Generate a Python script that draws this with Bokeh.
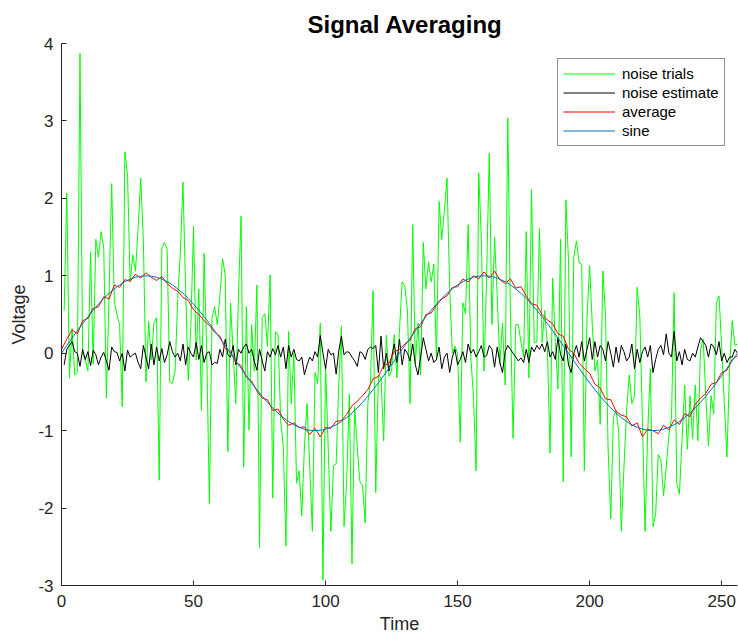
from bokeh.plotting import figure
from bokeh.models import Range1d, FixedTicker, Legend, LegendItem
from bokeh.embed import file_html
from bokeh.resources import INLINE

# ---------------- data ----------------
t_trial = list(range(1, 257))
noise_trials = [
    0.55, 2.07, -0.32, 0.32, -0.28, -0.25, 3.87, 0.00, -0.09, -0.23, 1.31, -0.14, 1.47, 1.24, 1.57, 1.36,
    -0.58, 0.74, 2.19, 0.67, 0.50, 0.37, -0.69, 2.60, 2.30, 0.92, 1.27, 1.06, 1.60, 2.26, 1.47, -0.37,
    0.41, -0.09, 0.39, 0.46, -1.64, 1.36, 1.43, 1.34, -0.37, -0.39, -0.23, 0.69, 1.30, 2.21, 0.83, -0.35,
    0.37, 1.64, -0.09, 0.83, -0.74, 1.29, 0.00, -1.94, 0.46, 0.60, 0.37, 0.74, 1.22, 1.01, -1.27, 0.65,
    0.00, -0.65, 0.74, 1.77, -1.47, 0.60, -0.99, 0.37, -0.23, 0.88, -2.51, 0.46, 0.51, 0.09, 1.01, -1.87,
    0.28, 0.23, -0.88, -1.20, -2.49, 0.28, -0.65, 0.00, -1.68, -1.52, -2.10, -1.20, -0.65, -1.47, -2.30, -0.25,
    -0.39, 0.39, -2.93, -0.16, -1.22, -2.30, -1.45, -1.43, -0.41, 0.35, -2.24, -1.66, -0.53, -2.72, -0.69, -1.22,
    -1.66, -1.71, -2.19, -0.65, -0.37, 0.81, -1.80, -0.28, -0.32, -1.13, 0.23, -0.30, -0.23, 0.24, -0.32, 0.30,
    0.92, 0.87, 0.55, -0.65, 1.66, -0.14, 0.39, -0.28, 1.43, 0.83, 1.18, 0.92, 1.15, -0.09, 1.96, 1.47,
    1.84, 2.26, 0.83, 0.00, 0.09, 0.00, -1.15, 0.65, 0.51, 1.66, -0.05, -0.55, -1.52, 2.33, 1.47, -0.23,
    1.00, 2.58, 0.37, 1.50, 0.74, -0.14, 0.39, -0.41, 3.04, 0.51, -1.10, 0.37, 0.37, 0.14, -0.05, 1.57,
    -0.32, 2.12, 0.14, 0.14, 1.61, 0.14, 0.55, 0.09, -1.29, 0.97, 0.14, -0.46, 1.47, -1.66, 1.98, 1.20,
    -1.34, 1.24, 1.45, 1.17, 1.15, -1.52, 0.46, 1.13, 0.37, -0.23, -0.09, -0.92, 1.06, 0.51, -1.24, -2.14,
    -0.83, -0.74, -1.01, -2.30, -1.47, -0.74, -0.28, -0.65, -0.55, 0.85, 0.48, -0.88, -2.30, -1.00, -0.20, -2.24,
    -2.08, -1.31, -1.38, -1.84, -1.47, -1.06, -0.83, 0.78, -1.68, -1.82, -1.11, -0.41, -1.24, -0.55, -1.11, -0.41,
    -1.13, 0.05, 0.18, -0.55, -1.20, -0.55, -0.78, 0.65, 0.74, 0.09, -0.65, -1.34, -0.20, 0.42, 0.10, 0.12,
]
noise_estimate = [
    -0.15, 0.05, 0.10, 0.15, 0.02, 0.00, -0.17, 0.05, -0.08, 0.02, -0.16, 0.04, -0.02, -0.15, -0.05, 0.01,
    -0.10, -0.22, 0.08, 0.02, 0.01, -0.10, 0.00, -0.23, 0.04, -0.05, -0.02, 0.00, -0.12, -0.20, 0.10, -0.05,
    -0.20, 0.12, -0.15, 0.08, -0.10, 0.06, -0.12, -0.02, 0.15, 0.02, -0.05, 0.00, -0.10, 0.12, -0.15, 0.08,
    0.00, -0.05, 0.14, -0.08, 0.10, -0.12, 0.00, 0.02, -0.15, -0.12, -0.13, 0.05, -0.05, 0.18, -0.02, -0.05,
    0.10, -0.15, 0.05, 0.00, 0.08, 0.12, 0.00, 0.05, -0.10, -0.22, 0.05, -0.10, -0.23, 0.02, -0.05, 0.06,
    -0.02, 0.10, -0.05, 0.08, -0.20, 0.10, -0.05, 0.05, -0.08, -0.10, -0.05, -0.28, -0.15, -0.05, -0.10, 0.02,
    -0.05, 0.23, 0.00, -0.20, 0.05, -0.02, 0.00, -0.27, 0.03, 0.22, -0.02, 0.02, 0.01, -0.05, -0.10, -0.17,
    0.02, 0.00, -0.08, 0.05, 0.08, 0.06, 0.10, -0.25, 0.22, -0.20, 0.00, -0.23, -0.05, 0.12, -0.12, 0.18,
    -0.15, 0.05, 0.00, -0.10, 0.12, -0.15, -0.28, -0.05, 0.20, 0.05, -0.10, 0.00, -0.12, -0.08, 0.08, -0.20,
    -0.05, 0.00, -0.25, -0.05, 0.05, -0.15, -0.08, 0.02, -0.12, 0.12, 0.00, 0.05, -0.05, 0.02, 0.10, -0.05,
    -0.03, 0.10, 0.05, -0.18, 0.08, -0.12, -0.25, 0.02, 0.10, 0.05, 0.00, -0.05, -0.10, -0.06, -0.12, 0.05,
    -0.12, 0.08, 0.02, 0.10, 0.05, 0.12, 0.02, 0.15, -0.05, 0.02, -0.08, 0.20, -0.02, -0.10, 0.12, -0.15,
    -0.25, 0.00, 0.10, -0.05, 0.15, -0.10, 0.05, 0.20, -0.08, 0.15, -0.05, 0.10, 0.05, -0.10, 0.15, 0.00,
    -0.18, 0.08, -0.12, 0.10, 0.02, -0.10, -0.05, 0.12, -0.20, 0.05, -0.12, 0.02, 0.08, -0.05, 0.10, -0.25,
    -0.08, 0.05, 0.10, -0.02, 0.25, 0.00, -0.05, 0.28, -0.10, 0.02, -0.15, 0.05, -0.08, -0.10, 0.00, -0.05,
    0.08, 0.20, 0.15, 0.10, -0.05, 0.12, 0.08, -0.02, 0.15, -0.10, 0.00, -0.12, -0.05, -0.05, 0.05, 0.00,
]
t_avg = list(range(0, 257, 2))
average = [
    0.05, 0.18, 0.30, 0.25, 0.42, 0.45, 0.58, 0.60, 0.73, 0.70, 0.88, 0.85, 0.95, 0.93, 1.02, 0.97,
    1.04, 0.98, 0.94, 0.99, 0.90, 0.84, 0.80, 0.72, 0.68, 0.56, 0.50, 0.42, 0.36, 0.27, 0.22, 0.06,
    0.02, -0.12, -0.16, -0.31, -0.36, -0.49, -0.58, -0.60, -0.74, -0.72, -0.85, -0.93, -0.90, -0.96, -0.95, -1.05,
    -0.97, -1.08, -0.96, -0.97, -0.88, -0.87, -0.79, -0.68, -0.62, -0.55, -0.47, -0.33, -0.30, -0.16, -0.13, 0.02,
    0.05, 0.12, 0.17, 0.32, 0.34, 0.50, 0.52, 0.62, 0.70, 0.74, 0.85, 0.86, 0.96, 0.92, 1.00, 0.96,
    1.05, 0.97, 1.06, 0.95, 0.90, 0.96, 0.84, 0.86, 0.74, 0.64, 0.62, 0.50, 0.43, 0.38, 0.25, 0.22,
    0.05, 0.00, -0.13, -0.20, -0.26, -0.40, -0.45, -0.59, -0.60, -0.75, -0.80, -0.82, -0.94, -0.90, -1.08, -0.98,
    -1.00, -1.04, -0.93, -0.99, -0.86, -0.92, -0.78, -0.82, -0.66, -0.58, -0.52, -0.40, -0.38, -0.25, -0.22, -0.08,
    -0.03,
]
t_sine = list(range(0, 257, 2))
sine = [
    0.000, 0.098, 0.195, 0.290, 0.383, 0.471, 0.556, 0.634, 0.707, 0.773, 0.831, 0.882, 0.924, 0.957, 0.981, 0.995,
    1.000, 0.995, 0.981, 0.957, 0.924, 0.882, 0.831, 0.773, 0.707, 0.634, 0.556, 0.471, 0.383, 0.290, 0.195, 0.098,
    0.000, -0.098, -0.195, -0.290, -0.383, -0.471, -0.556, -0.634, -0.707, -0.773, -0.831, -0.882, -0.924, -0.957, -0.981, -0.995,
    -1.000, -0.995, -0.981, -0.957, -0.924, -0.882, -0.831, -0.773, -0.707, -0.634, -0.556, -0.471, -0.383, -0.290, -0.195, -0.098,
    0.000, 0.098, 0.195, 0.290, 0.383, 0.471, 0.556, 0.634, 0.707, 0.773, 0.831, 0.882, 0.924, 0.957, 0.981, 0.995,
    1.000, 0.995, 0.981, 0.957, 0.924, 0.882, 0.831, 0.773, 0.707, 0.634, 0.556, 0.471, 0.383, 0.290, 0.195, 0.098,
    0.000, -0.098, -0.195, -0.290, -0.383, -0.471, -0.556, -0.634, -0.707, -0.773, -0.831, -0.882, -0.924, -0.957, -0.981, -0.995,
    -1.000, -0.995, -0.981, -0.957, -0.924, -0.882, -0.831, -0.773, -0.707, -0.634, -0.556, -0.471, -0.383, -0.290, -0.195, -0.098,
    0.000,
]
x_ticks = [0, 50, 100, 150, 200, 250]
y_ticks = [-3, -2, -1, 0, 1, 2, 3, 4]
series_labels = ["noise trials", "noise estimate", "average", "sine"]

# ---------------- figure ----------------
FONT = "Liberation Sans"
AX = "#262626"

p = figure(width=738, height=637, x_range=Range1d(0, 256), y_range=Range1d(-3, 4),
           output_backend="svg", toolbar_location=None,
           min_border_left=61, min_border_right=1, min_border_top=43, min_border_bottom=52,
           background_fill_color="white", border_fill_color="white")
p.outline_line_color = None
p.grid.visible = False

p.title.text = "Signal Averaging"
p.title.align = "left"
p.title.offset = 246
p.title.text_font = FONT
p.title.text_font_style = "bold"
p.title.text_font_size = "24px"
p.title.text_color = "black"
p.title.standoff = 12

for ax in (p.xaxis[0], p.yaxis[0]):
    ax.axis_line_color = AX
    ax.major_tick_line_color = AX
    ax.major_tick_in = 5
    ax.major_tick_out = 0
    ax.minor_tick_in = 0
    ax.minor_tick_out = 0
    ax.major_label_text_font = FONT
    ax.major_label_text_font_size = "17px"
    ax.major_label_text_color = AX
    ax.axis_label_text_font = FONT
    ax.axis_label_text_font_size = "18px"
    ax.axis_label_text_font_style = "normal"
    ax.axis_label_text_color = AX

p.xaxis.ticker = FixedTicker(ticks=x_ticks)
p.yaxis.ticker = FixedTicker(ticks=y_ticks)
p.yaxis.major_label_overrides = {v: str(v) for v in y_ticks}
p.xaxis.major_label_overrides = {v: str(v) for v in x_ticks}
p.xaxis.axis_label = "Time"
p.yaxis.axis_label = "Voltage"
p.xaxis.major_label_standoff = 9
p.yaxis.major_label_standoff = 8
p.xaxis.axis_label_standoff = 4
p.yaxis.axis_label_standoff = 6

r_green = p.line(t_trial, noise_trials, line_color="#00ff00", line_width=1)
r_black = p.line(t_trial, noise_estimate, line_color="black", line_width=1)
r_red = p.line(t_avg, average, line_color="#ff0000", line_width=1)
r_blue = p.line(t_sine, sine, line_color="#0072bd", line_width=1)

legend = Legend(items=[LegendItem(label=series_labels[0], renderers=[r_green]),
                       LegendItem(label=series_labels[1], renderers=[r_black]),
                       LegendItem(label=series_labels[2], renderers=[r_red]),
                       LegendItem(label=series_labels[3], renderers=[r_blue])],
                location=(496, 439))
legend.label_text_font = FONT
legend.label_text_font_size = "15px"
legend.label_text_color = "black"
legend.glyph_width = 52
legend.glyph_height = 19
legend.label_height = 19
legend.label_standoff = 7
legend.spacing = 0
legend.padding = 5
legend.margin = 0
legend.border_line_color = AX
legend.border_line_width = 1
legend.background_fill_color = "white"
legend.background_fill_alpha = 1.0
p.add_layout(legend)

open("out.html", "w").write(file_html(p, INLINE))
